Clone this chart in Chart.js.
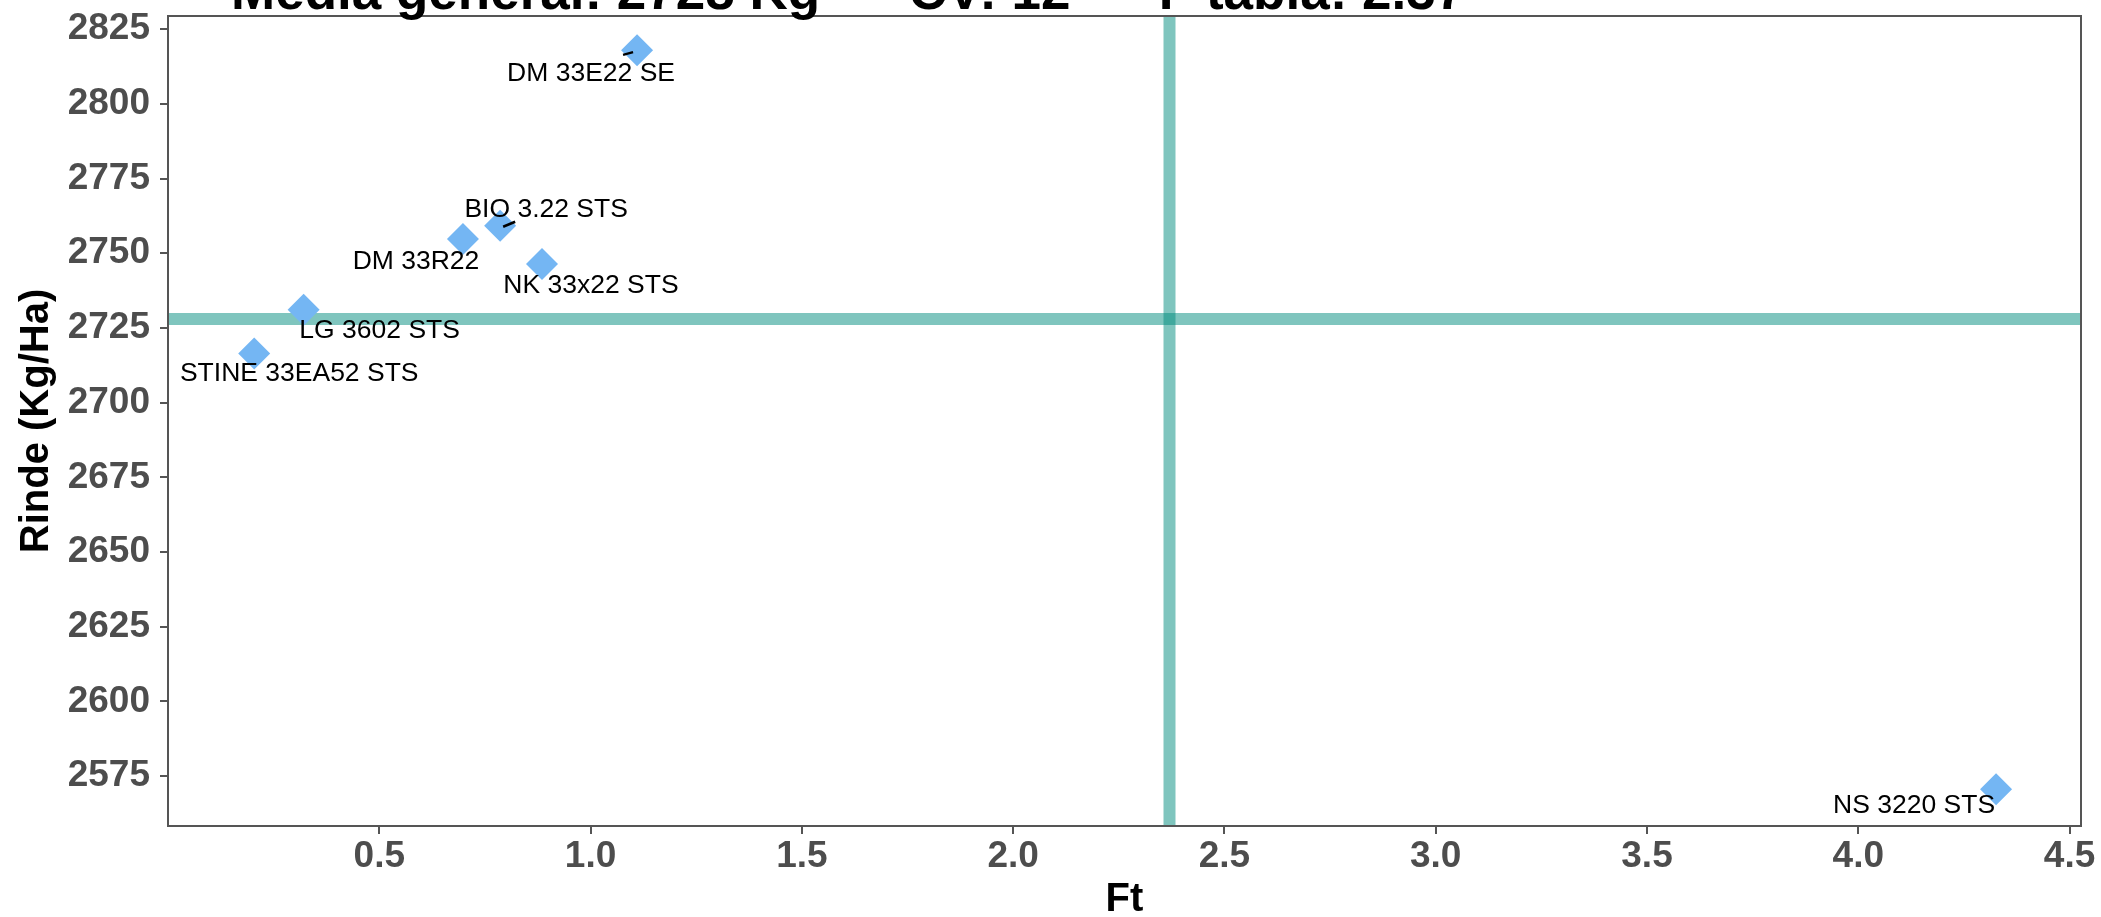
<!DOCTYPE html>
<html>
<head>
<meta charset="utf-8">
<script src="https://cdn.jsdelivr.net/npm/chart.js@4.4.1/dist/chart.umd.min.js"></script>
<style>
  html, body { margin: 0; padding: 0; background: #fff; }
  #wrap { width: 2101px; height: 917px; }
</style>
</head>
<body>
<div id="wrap"><canvas id="chart"></canvas></div>
<script>
// data
const cultivares = ["STINE 33EA52 STS", "LG 3602 STS", "DM 33R22", "BIO 3.22 STS", "NK 33x22 STS", "DM 33E22 SE", "NS 3220 STS"];
const ftValues = [0.204, 0.321, 0.698, 0.786, 0.885, 1.110, 4.326];
const rindeValues = [2716.4, 2731.1, 2754.8, 2759.2, 2746.4, 2817.9, 2570.6];
const mediaGeneral = 2728;
const cv = 12;
const fTabla = 2.37;
const xTicks = [0.5, 1.0, 1.5, 2.0, 2.5, 3.0, 3.5, 4.0, 4.5];
const yTicks = [2575, 2600, 2625, 2650, 2675, 2700, 2725, 2750, 2775, 2800, 2825];

// label placement (pixels from the point, like ggrepel did it)
const labelOffsets = [[45, 27], [76, 28], [-47, 30], [46, -9], [49, 29], [-46, 31], [-82, 24]];
const labelSegments = { 3: [3, 1, 15, -4], 5: [-14, 4.5, -4, 1.8] };

const FONT = "'Liberation Sans', Arial, sans-serif";
const TEAL = "rgba(0,140,125,0.5)";

const refLines = {
  id: "refLines",
  beforeDatasetsDraw(chart) {
    const { ctx, chartArea: a, scales } = chart;
    const y = scales.y.getPixelForValue(mediaGeneral);
    const x = scales.x.getPixelForValue(fTabla);
    ctx.save();
    ctx.beginPath();
    ctx.rect(a.left, a.top, a.right - a.left, a.bottom - a.top);
    ctx.clip();
    ctx.strokeStyle = TEAL;
    ctx.lineWidth = 12;
    ctx.beginPath(); ctx.moveTo(a.left, y); ctx.lineTo(a.right, y); ctx.stroke();
    ctx.beginPath(); ctx.moveTo(x, a.top); ctx.lineTo(x, a.bottom); ctx.stroke();
    ctx.restore();
  }
};

const pointLabels = {
  id: "pointLabels",
  afterDatasetsDraw(chart) {
    const { ctx } = chart;
    const meta = chart.getDatasetMeta(0);
    ctx.save();
    ctx.fillStyle = "#000";
    ctx.strokeStyle = "#000";
    ctx.lineWidth = 2.5;
    ctx.font = "26.5px " + FONT;
    ctx.textAlign = "center";
    ctx.textBaseline = "alphabetic";
    meta.data.forEach((pt, i) => {
      const seg = labelSegments[i];
      if (seg) {
        ctx.beginPath();
        ctx.moveTo(pt.x + seg[0], pt.y + seg[1]);
        ctx.lineTo(pt.x + seg[2], pt.y + seg[3]);
        ctx.stroke();
      }
      ctx.fillText(cultivares[i], pt.x + labelOffsets[i][0], pt.y + labelOffsets[i][1]);
    });
    ctx.restore();
  }
};

const panelBox = {
  id: "panelBox",
  afterDraw(chart) {
    const { ctx, chartArea: a } = chart;
    ctx.save();
    ctx.strokeStyle = "#555";
    ctx.lineWidth = 2;
    ctx.strokeRect(a.left, a.top, a.right - a.left, a.bottom - a.top);
    // title, cut off by the top edge like in the original
    ctx.fillStyle = "#000";
    ctx.font = "bold 53px " + FONT;
    ctx.textAlign = "left";
    ctx.textBaseline = "alphabetic";
    const sp = "      ";
    ctx.fillText("Media general: " + mediaGeneral + " Kg" + sp + "CV: " + cv + sp + "F tabla: " + fTabla, 231, 8.5);
    ctx.restore();
  }
};

new Chart(document.getElementById("chart"), {
  type: "scatter",
  data: {
    datasets: [{
      data: ftValues.map((x, i) => ({ x, y: rindeValues[i] })),
      pointStyle: "rectRot",
      pointRadius: 16,
      pointHoverRadius: 16,
      backgroundColor: "#74b6f3",
      borderWidth: 0
    }]
  },
  options: {
    responsive: true,
    maintainAspectRatio: false,
    animation: false,
    devicePixelRatio: 1,
    layout: { padding: { top: 13, right: 20, left: 0, bottom: 0 } },
    plugins: { legend: { display: false }, tooltip: { enabled: false } },
    scales: {
      x: {
        type: "linear",
        min: 0,
        max: 4.527,
        afterBuildTicks: s => { s.ticks = xTicks.map(v => ({ value: v })); },
        afterFit: s => { s.height = 91; s.paddingLeft = 0; s.paddingRight = 0; },
        ticks: {
          callback: v => v.toFixed(1),
          font: { family: FONT, size: 37, weight: "bold" },
          color: "#4d4d4d",
          padding: 1,
          maxRotation: 0,
          autoSkip: false
        },
        grid: { drawOnChartArea: false, tickLength: 8, color: "#555", lineWidth: 2 },
        border: { color: "#555", width: 2 },
        title: {
          display: true,
          text: "Ft",
          color: "#000",
          font: { family: FONT, size: 40, weight: "bold", lineHeight: 0.85 },
          padding: 0
        }
      },
      y: {
        min: 2558.3,
        max: 2829.4,
        afterBuildTicks: s => { s.ticks = yTicks.map(v => ({ value: v })); },
        afterFit: s => { s.width = 168; s.paddingTop = 0; s.paddingBottom = 0; },
        ticks: {
          callback: v => String(v),
          font: { family: FONT, size: 37, weight: "bold" },
          color: "#4d4d4d",
          padding: 10,
          autoSkip: false
        },
        grid: { drawOnChartArea: false, tickLength: 8, color: "#555", lineWidth: 2 },
        border: { color: "#555", width: 2 },
        title: {
          display: true,
          text: "Rinde (Kg/Ha)",
          color: "#000",
          font: { family: FONT, size: 40, weight: "bold", lineHeight: 1.2 },
          padding: { top: 13, bottom: 0 }
        }
      }
    }
  },
  plugins: [refLines, pointLabels, panelBox]
});
</script>
</body>
</html>
